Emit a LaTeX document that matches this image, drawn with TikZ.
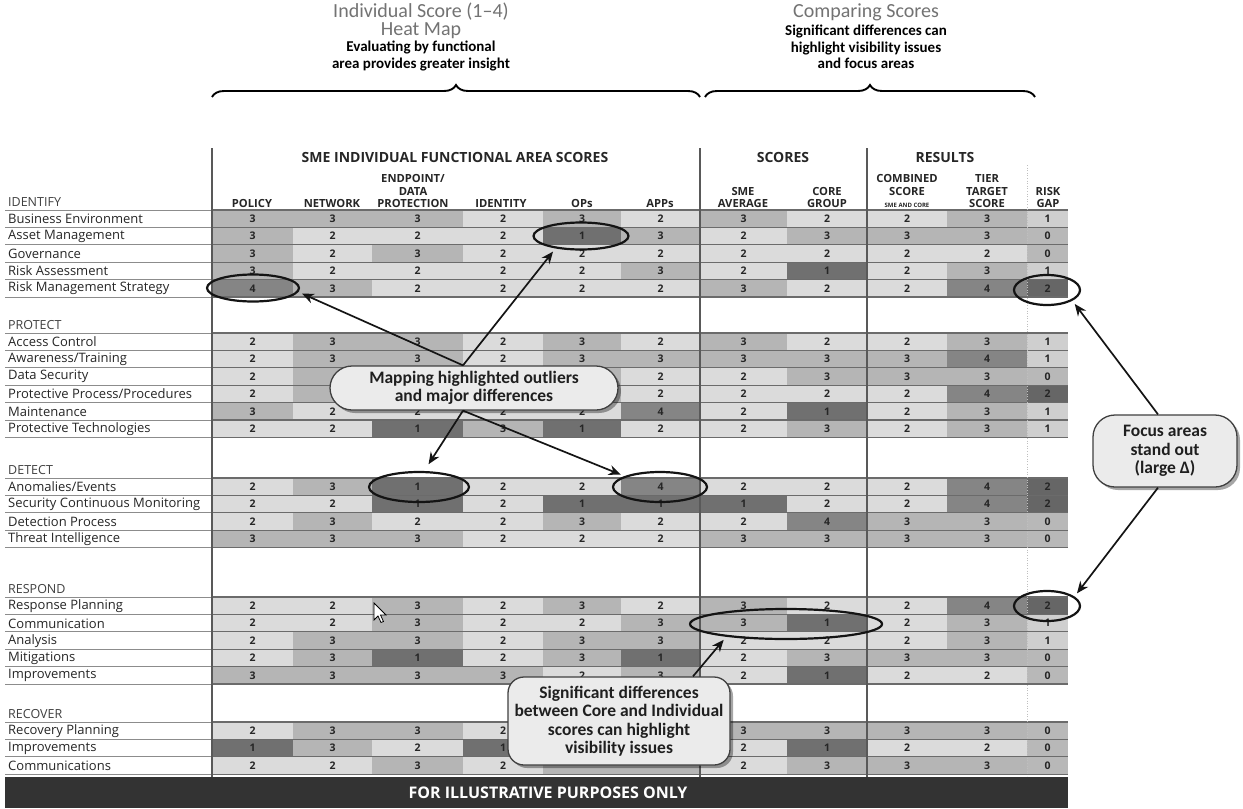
\documentclass[tikz,border=0pt]{standalone}
\usepackage{fontspec}
\setmainfont{Carlito}
\newfontfamily\tabfont{Open Sans}
\usetikzlibrary{shapes.geometric,decorations.pathreplacing,shadows,arrows.meta}

% heat-map shades (score value -> grey level)
\definecolor{score1}{gray}{0.44}
\definecolor{score2}{gray}{0.86}
\definecolor{score3}{gray}{0.71}
\definecolor{score4}{gray}{0.52}
% same shades for cells whose number sits under a callout
\colorlet{scorea}{score1}
\colorlet{scoreb}{score2}
\colorlet{scorec}{score3}
\colorlet{scored}{score4}
\definecolor{gap0}{gray}{0.72}
\definecolor{gap1}{gray}{0.81}
\definecolor{gap2}{gray}{0.40}
\definecolor{rulegrey}{gray}{0.42}

% only digits are printed in a cell
\expandafter\def\csname cellshow@0\endcsname{}
\expandafter\def\csname cellshow@1\endcsname{}
\expandafter\def\csname cellshow@2\endcsname{}
\expandafter\def\csname cellshow@3\endcsname{}
\expandafter\def\csname cellshow@4\endcsname{}
\newcommand\cellvalue[1]{\ifcsname cellshow@#1\endcsname #1\fi}

% column boundaries of the score table
\def\colx{{212,293,372,463,543,621,700,787,867,947,1027,1068}}

\tikzset{
  titletext/.style={font=\fontsize{20}{22}\selectfont, text=black!55, inner sep=0},
  subtext/.style={font=\bfseries\fontsize{15}{16.5}\selectfont, align=center, inner sep=0},
  grphead/.style={font=\tabfont\bfseries\fontsize{14}{16}\selectfont, text=black!85, inner sep=0},
  colhead/.style={font=\tabfont\bfseries\fontsize{11.2}{12.5}\selectfont, text=black!85, align=center, anchor=south, inner sep=0},
  sectionhead/.style={font=\tabfont\fontsize{12.5}{14}\selectfont, text=black!75, anchor=west, inner sep=0},
  rowlabel/.style={font=\tabfont\fontsize{13}{14}\selectfont, text=black!85, anchor=west, inner sep=0},
  cellnum/.style={font=\tabfont\bfseries\fontsize{10.5}{11}\selectfont, text=black!85, inner sep=0},
  labrule/.style={draw=black!45, line width=0.8pt},
  cellrule/.style={draw=rulegrey, line width=1.1pt},
  vrule/.style={draw=black!65, line width=1.4pt},
  ring/.style={ellipse, draw=black!92, line width=2.2pt, inner sep=0},
  callout/.style={draw=black!75, line width=1.3pt, fill=black!8, align=center,
    font=\bfseries\fontsize{17.5}{18.5}\selectfont, text=black!88,
    drop shadow={shadow xshift=3pt, shadow yshift=-3pt, opacity=0.35, fill=black}},
  pointer/.style={draw=black!92, line width=1.7pt, -{Stealth[length=12pt,width=10pt]}, shorten >=4pt},
  bracket/.style={draw=black, line width=1.9pt, decorate, decoration={brace, amplitude=12pt}},
}

% one table row: id, top y, label, eleven values
\newcommand\scorerow[4]{%
  \node[rowlabel] (#1-lab) at (8,#2+8.9) {#3};
  \draw[labrule] (5,#2) -- (212,#2);
  \draw[labrule] (5,#2+17.4) -- (212,#2+17.4);
  \foreach \v [count=\i] in {#4} {%
    \pgfmathsetmacro\xa{\colx[\i-1]}%
    \pgfmathsetmacro\xb{\colx[\i]}%
    \ifnum\i<11 \def\cc{score\v}\else\def\cc{gap\v}\fi
    \fill[\cc] (\xa,#2) rectangle (\xb,#2+17.4);
    \node[cellnum] (#1-\i) at ({(\xa+\xb)/2},#2+8.7) {\cellvalue{\v}};
  }
  \draw[cellrule] (212,#2) -- (1068,#2);
  \draw[cellrule] (212,#2+17.4) -- (1068,#2+17.4);
}

\begin{document}
\begin{tikzpicture}[x=1pt,y=-1pt]
\useasboundingbox (0,0) rectangle (1243,809);
\fill[white] (0,0) rectangle (1243,809);

% titles
\node[titletext] (ttl1) at (421,12) {Individual Score (1–4)};
\node[titletext] (ttl2) at (421,31) {Heat Map};
\node[subtext] (sub1) at (421,56) {Evaluating by functional\\area provides greater insight};
\node[titletext] (ttl3) at (866,12) {Comparing Scores};
\node[subtext] (sub2) at (866,47) {Significant differences can\\highlight visibility issues\\and focus areas};

% braces
\draw[bracket] (212,97) -- (700,97);
\draw[bracket] (705,97) -- (1035,97);

% group and column headers
\node[grphead] (hsme) at (455,157) {SME INDIVIDUAL FUNCTIONAL AREA SCORES};
\node[grphead] (hsc) at (783,157) {SCORES};
\node[grphead] (hres) at (945,157) {RESULTS};

\node[colhead] (cpol) at (252,208) {POLICY};
\node[colhead] (cnet) at (332,208) {NETWORK};
\node[colhead] (cend) at (413,208) {ENDPOINT/\\DATA\\PROTECTION};
\node[colhead] (cid) at (501,208) {IDENTITY};
\node[colhead] (cops) at (582,208) {OPs};
\node[colhead] (capp) at (660,208) {APPs};
\node[colhead] (csme) at (743,208) {SME\\AVERAGE};
\node[colhead] (ccore) at (827,208) {CORE\\GROUP};
\node[colhead] (ccomb) at (907,208) {COMBINED\\SCORE\\{\fontsize{6}{7}\selectfont SME AND CORE}};
\node[colhead] (ctier) at (987,208) {TIER\\TARGET\\SCORE};
\node[colhead] (cgap) at (1048,208) {RISK\\GAP};

% section headings
\node[sectionhead] (sh1) at (8,202) {IDENTIFY};
\node[sectionhead] (sh2) at (8,325) {PROTECT};
\node[sectionhead] (sh3) at (8,470) {DETECT};
\node[sectionhead] (sh4) at (8,589) {RESPOND};
\node[sectionhead] (sh5) at (8,714) {RECOVER};

% IDENTIFY
\scorerow{r1}{210}{Business Environment}{3,3,3,2,3,2,3,2,2,3,1}
\scorerow{r2}{227.4}{Asset Management}{3,2,2,2,1,3,2,3,3,3,0}
\scorerow{r3}{244.8}{Governance}{3,2,3,2,2,2,2,2,2,2,0}
\scorerow{r4}{262.2}{Risk Assessment}{3,2,2,2,2,3,2,1,2,3,1}
\scorerow{r5}{279.6}{Risk Management Strategy}{4,3,2,2,2,2,3,2,2,4,2}
% PROTECT
\scorerow{r6}{333}{Access Control}{2,3,3,2,3,2,3,2,2,3,1}
\scorerow{r7}{350.4}{Awareness/Training}{2,3,3,2,3,3,3,3,3,4,1}
\scorerow{r8}{367.8}{Data Security}{2,c,b,b,c,2,2,3,3,3,0}
\scorerow{r9}{385.2}{Protective Process/Procedures}{2,c,b,b,c,2,2,2,2,4,2}
\scorerow{r10}{402.6}{Maintenance}{3,2,2,2,2,4,2,1,2,3,1}
\scorerow{r11}{420}{Protective Technologies}{2,2,1,3,1,2,2,3,2,3,1}
% DETECT
\scorerow{r12}{478}{Anomalies/Events}{2,3,1,2,2,4,2,2,2,4,2}
\scorerow{r13}{495.4}{Security Continuous Monitoring}{2,2,1,2,1,1,1,2,2,4,2}
\scorerow{r14}{512.8}{Detection Process}{2,3,2,2,3,2,2,4,3,3,0}
\scorerow{r15}{530.2}{Threat Intelligence}{3,3,3,2,2,2,3,3,3,3,0}
% RESPOND
\scorerow{r16}{597}{Response Planning}{2,2,3,2,3,2,3,2,2,4,2}
\scorerow{r17}{614.4}{Communication}{2,2,3,2,2,3,3,1,2,3,1}
\scorerow{r18}{631.8}{Analysis}{2,3,3,2,3,3,2,2,2,3,1}
\scorerow{r19}{649.2}{Mitigations}{2,3,1,2,3,1,2,3,3,3,0}
\scorerow{r20}{666.6}{Improvements}{3,3,3,3,2,3,2,1,2,2,0}
% RECOVER
\scorerow{r21}{722}{Recovery Planning}{2,3,3,2,c,c,3,3,3,3,0}
\scorerow{r22}{739.4}{Improvements}{1,3,2,1,b,b,2,1,2,2,0}
\scorerow{r23}{756.8}{Communications}{2,2,3,2,c,c,2,3,3,3,0}

% column separators
\draw[vrule] (212,148) -- (212,777);
\draw[vrule] (700,148) -- (700,777);
\draw[vrule] (867,148) -- (867,777);
\draw[draw=black!25, line width=0.6pt, dotted] (1027,165) -- (1027,776);

% footer banner
\fill[black!80] (5,777) rectangle (1068,808);
\node[font=\tabfont\bfseries\fontsize{16}{18}\selectfont, text=white, inner sep=0] (banner) at (548,793) {FOR ILLUSTRATIVE PURPOSES ONLY};

% mouse pointer
\filldraw[fill=white, draw=black, line width=0.8pt, shift={(374,603)}]
  (0,0) -- (0,17) -- (4,13) -- (7,19.5) -- (9.5,18.5) -- (6.5,12) -- (12,12) -- cycle;

% highlighted cells
\node[ring, minimum width=92pt, minimum height=27pt] (el1) at (253,288) {};
\node[ring, minimum width=95pt, minimum height=27pt] (el2) at (581,236) {};
\node[ring, minimum width=66pt, minimum height=30pt] (el3) at (1047,290) {};
\node[ring, minimum width=100pt, minimum height=30pt] (el4) at (419,487) {};
\node[ring, minimum width=94pt, minimum height=30pt] (el5) at (660,487) {};
\node[ring, minimum width=66pt, minimum height=30pt] (el6) at (1047,606) {};
\node[ring, minimum width=192pt, minimum height=30pt] (el7) at (786,624) {};

% callouts
\node[callout, rounded corners=22pt, minimum width=288pt, minimum height=44pt] (mapcall) at (474,388)
  {Mapping highlighted outliers\\and major differences};
\node[callout, rounded corners=22pt, minimum width=144pt, minimum height=72pt] (focus) at (1165,451)
  {Focus areas\\stand out\\(large Δ)};
\node[callout, rounded corners=16pt, minimum width=222pt, minimum height=88pt] (sigcall) at (619,721)
  {Significant differences\\between Core and Individual\\scores can highlight\\visibility issues};

% pointers
\draw[pointer] ([xshift=-11pt]mapcall.north) -- (el1.-5);
\draw[pointer] ([xshift=-11pt]mapcall.north) -- (el2.-154);
\draw[pointer, shorten >=8pt] ([xshift=-11pt]mapcall.south) -- (el4.72);
\draw[pointer] ([xshift=-11pt]mapcall.south) -- (el5.163);
\draw[pointer] ([xshift=-7pt]focus.north) -- (el3.-23);
\draw[pointer] ([xshift=-7pt]focus.south) -- (el6.19);
\draw[pointer] ([xshift=74pt]sigcall.north) -- (el7.-168);
\end{tikzpicture}
\end{document}
